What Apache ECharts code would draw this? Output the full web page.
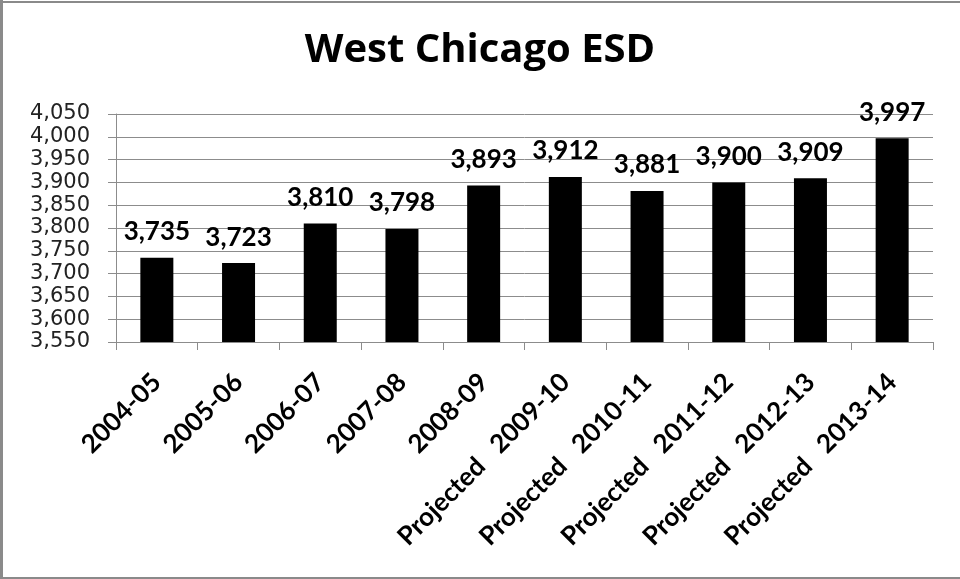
<!DOCTYPE html>
<html>
<head>
<meta charset="utf-8">
<script src="https://cdn.jsdelivr.net/npm/echarts@6/dist/echarts.min.js"></script>
<style>
html,body{margin:0;padding:0;background:#fff;}
#chart{width:960px;height:579px;}
</style>
</head>
<body>
<div id="chart"></div>
<script>
var title = 'West Chicago ESD';
var categories = ['2004-05','2005-06','2006-07','2007-08','2008-09',
  'Projected   2009-10','Projected   2010-11','Projected   2011-12','Projected   2012-13','Projected   2013-14'];
var values = [3735, 3723, 3810, 3798, 3893, 3912, 3881, 3900, 3909, 3997];
var yMin = 3550, yMax = 4050, yStep = 50;

var chart = echarts.init(document.getElementById('chart'));
chart.setOption({
  animation: false,
  backgroundColor: '#fff',
  title: {
    text: title, left: 'center', top: 26,
    textStyle: {fontFamily: 'Open Sans', fontWeight: 'bold', fontSize: 40, color: '#000'}
  },
  graphic: [
    {type: 'rect', shape: {x: 0, y: 0, width: 3, height: 579}, style: {fill: '#8a8a8a'}},
    {type: 'rect', shape: {x: 0, y: 1, width: 960, height: 2}, style: {fill: '#8a8a8a'}},
    {type: 'rect', shape: {x: 0, y: 577, width: 960, height: 2}, style: {fill: '#8a8a8a'}}
  ],
  grid: {left: 116, right: 27, top: 114, bottom: 237, containLabel: false},
  xAxis: {
    type: 'category', data: categories,
    axisLine: {lineStyle: {color: '#8c8c8c', width: 1}},
    axisTick: {show: true, length: 8, lineStyle: {color: '#8c8c8c'}},
    axisLabel: {rotate: 45, interval: 0, margin: 36, padding: [37, 0, 0, 0],
      fontFamily: 'Lato', fontWeight: 'bold', fontSize: 26, color: '#000'}
  },
  yAxis: {
    type: 'value', min: yMin, max: yMax, interval: yStep,
    axisLine: {show: true, lineStyle: {color: '#8c8c8c'}},
    axisTick: {show: true, length: 8, lineStyle: {color: '#8c8c8c'}},
    splitLine: {show: true, lineStyle: {color: '#8c8c8c', width: 1}},
    axisLabel: {
      margin: 26, fontFamily: 'DejaVu Sans', fontSize: 21, color: '#222',
      formatter: function (v) { return v.toLocaleString('en-US'); }
    }
  },
  series: [{
    type: 'bar', data: values, barWidth: 33,
    itemStyle: {color: '#000'},
    label: {
      show: true, position: 'top', distance: 13,
      fontFamily: 'Lato', fontWeight: 'bold', fontSize: 26, color: '#000',
      formatter: function (p) { return p.value.toLocaleString('en-US'); }
    }
  }]
});
</script>
</body>
</html>
